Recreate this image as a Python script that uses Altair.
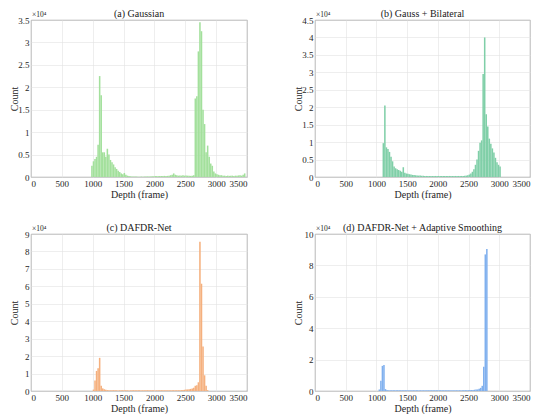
import altair as alt
import pandas as pd

FONT = "Liberation Serif, Times New Roman, serif"
BIN = 25  # bin width (frames)

titles = ["(a) Gaussian", "(b) Gauss + Bilateral", "(c) DAFDR-Net", "(d) DAFDR-Net + Adaptive Smoothing"]
colors = ["#a3e09c", "#80cfa8", "#f5b07e", "#80b0ee"]
x_ticks = [0, 500, 1000, 1500, 2000, 2500, 3000, 3500]

# counts in units of 1e4, one value per bin starting at *_start
a_start = 975
a_counts = [0.25, 0.35, 0.40, 0.45, 0.72, 2.25, 1.82, 0.55, 0.55, 0.45,
            0.63, 0.50, 0.38, 0.33, 0.28, 0.22, 0.18, 0.14, 0.11, 0.08,
            0.06, 0.09, 0.05, 0.03, 0.02, 0.015, 0.01, 0.01, 0.01, 0.01,
            0.008, 0.008, 0.01, 0.008, 0.01, 0.01, 0.012, 0.01, 0.012, 0.015,
            0.015, 0.02, 0.02, 0.018, 0.02, 0.022, 0.02, 0.025, 0.02, 0.025,
            0.03, 0.04, 0.05, 0.08, 0.05, 0.04, 0.03, 0.035, 0.03, 0.04,
            0.03, 0.035, 0.03, 0.03, 0.025, 0.03, 0.04, 1.75, 1.80, 2.80,
            3.45, 3.25, 1.50, 1.18, 0.55, 0.70, 0.45, 0.30, 0.25, 0.12,
            0.08, 0.06, 0.05, 0.04, 0.04, 0.03, 0.03, 0.025, 0.03, 0.025,
            0.03, 0.03, 0.025, 0.03, 0.03, 0.035, 0.04, 0.03, 0.05, 0.08]

b_start = 1100
b_counts = [0.97, 2.05, 0.85, 0.80, 0.72, 0.58, 0.45, 0.30, 0.25, 0.22,
            0.20, 0.18, 0.15, 0.28, 0.12, 0.10, 0.09, 0.08, 0.07, 0.06,
            0.055, 0.05, 0.045, 0.04, 0.04, 0.035, 0.035, 0.03, 0.03, 0.03,
            0.028, 0.03, 0.028, 0.03, 0.03, 0.028, 0.03, 0.03, 0.028, 0.03,
            0.03, 0.028, 0.03, 0.03, 0.03, 0.028, 0.03, 0.03, 0.03, 0.03,
            0.03, 0.03, 0.03, 0.035, 0.04, 0.05, 0.07, 0.10, 0.15, 0.22,
            0.35, 0.50, 0.75, 0.98, 1.05, 2.95, 4.00, 1.80, 1.45, 1.10,
            0.95, 0.82, 0.70, 0.55, 0.42, 0.35, 0.30]

c_start = 1000
c_counts = [0.08, 0.60, 1.15, 1.30, 1.90, 0.30, 0.15, 0.10, 0.07, 0.05,
            0.045, 0.04, 0.04, 0.045, 0.04, 0.04, 0.035, 0.04, 0.04, 0.045,
            0.04, 0.04, 0.04, 0.035, 0.04, 0.04, 0.045, 0.04, 0.04, 0.04,
            0.04, 0.035, 0.04, 0.04, 0.04, 0.045, 0.04, 0.04, 0.04, 0.04,
            0.035, 0.04, 0.04, 0.04, 0.045, 0.04, 0.04, 0.04, 0.04, 0.045,
            0.04, 0.04, 0.045, 0.04, 0.04, 0.045, 0.05, 0.05, 0.06, 0.07,
            0.08, 0.09, 0.10, 0.12, 0.15, 0.18, 0.30, 0.33, 0.50, 8.55,
            6.15, 2.55, 0.90, 0.30, 0.05]

d_start = 1035
d_counts = [0.10, 0.65, 1.60, 1.65, 0.12, 0.06, 0.045, 0.04, 0.045, 0.04,
            0.045, 0.045, 0.04, 0.045, 0.04, 0.045, 0.04, 0.045, 0.045, 0.04,
            0.045, 0.04, 0.045, 0.04, 0.045, 0.045, 0.04, 0.045, 0.04, 0.045,
            0.04, 0.045, 0.045, 0.04, 0.045, 0.04, 0.045, 0.04, 0.045, 0.045,
            0.04, 0.045, 0.04, 0.045, 0.04, 0.045, 0.045, 0.04, 0.045, 0.04,
            0.045, 0.04, 0.045, 0.04, 0.045, 0.045, 0.05, 0.05, 0.05, 0.06,
            0.06, 0.07, 0.08, 0.09, 0.10, 0.15, 0.20, 0.33, 1.55, 8.70,
            9.05]

y_max = [3.5, 4.5, 9, 10]
y_ticks = [
    [0, 0.5, 1, 1.5, 2, 2.5, 3, 3.5],
    [0, 0.5, 1, 1.5, 2, 2.5, 3, 3.5, 4, 4.5],
    [0, 1, 2, 3, 4, 5, 6, 7, 8, 9],
    [0, 2, 4, 6, 8, 10],
]
starts = [a_start, b_start, c_start, d_start]
counts = [a_counts, b_counts, c_counts, d_counts]
widths = [216, 215, 216, 215]
HEIGHT = 157


def panel(i):
    df = pd.DataFrame({
        "x0": [starts[i] + k * BIN for k in range(len(counts[i]))],
        "count": counts[i],
    })
    df["x1"] = df["x0"] + BIN
    bars = alt.Chart(df).mark_rect(color=colors[i]).encode(
        x=alt.X("x0:Q", scale=alt.Scale(domain=[0, 3500], nice=False),
                axis=alt.Axis(values=x_ticks, format="d", title="Depth (frame)")),
        x2="x1:Q",
        y=alt.Y("count:Q", scale=alt.Scale(domain=[0, y_max[i]], nice=False),
                axis=alt.Axis(values=y_ticks[i], format=".1~f", title="Count",
                              minExtent=11, maxExtent=11)),
        y2=alt.datum(0),
    )
    exp = alt.Chart(pd.DataFrame({"t": ["×10⁴"]})).mark_text(
        align="left", baseline="bottom", fontSize=7.5, font=FONT, color="#262626"
    ).encode(x=alt.value(1), y=alt.value(-1), text="t:N")
    ttl = alt.Chart(pd.DataFrame({"t": [titles[i]]})).mark_text(
        align="center", baseline="bottom", fontSize=10, font=FONT, color="#1a1a1a"
    ).encode(x=alt.value(widths[i] / 2), y=alt.value(-1), text="t:N")
    return alt.layer(bars, exp, ttl).properties(width=widths[i], height=HEIGHT)


chart = alt.vconcat(
    alt.hconcat(panel(0), panel(1), spacing=44),
    alt.hconcat(panel(2), panel(3), spacing=44),
    spacing=22,
).properties(padding=0).configure_view(
    stroke="#808080", strokeWidth=0.8
).configure_axis(
    grid=True, gridColor="#e3e3e3", gridWidth=0.6, domain=False,
    ticks=False, labelFont=FONT, labelFontSize=9, labelColor="#262626",
    titleFont=FONT, titleFontSize=10, titleFontWeight="normal", titleColor="#262626",
    labelPadding=2, titlePadding=1,
)

chart.save("out.html", embed_options={"renderer": "svg", "actions": False})
